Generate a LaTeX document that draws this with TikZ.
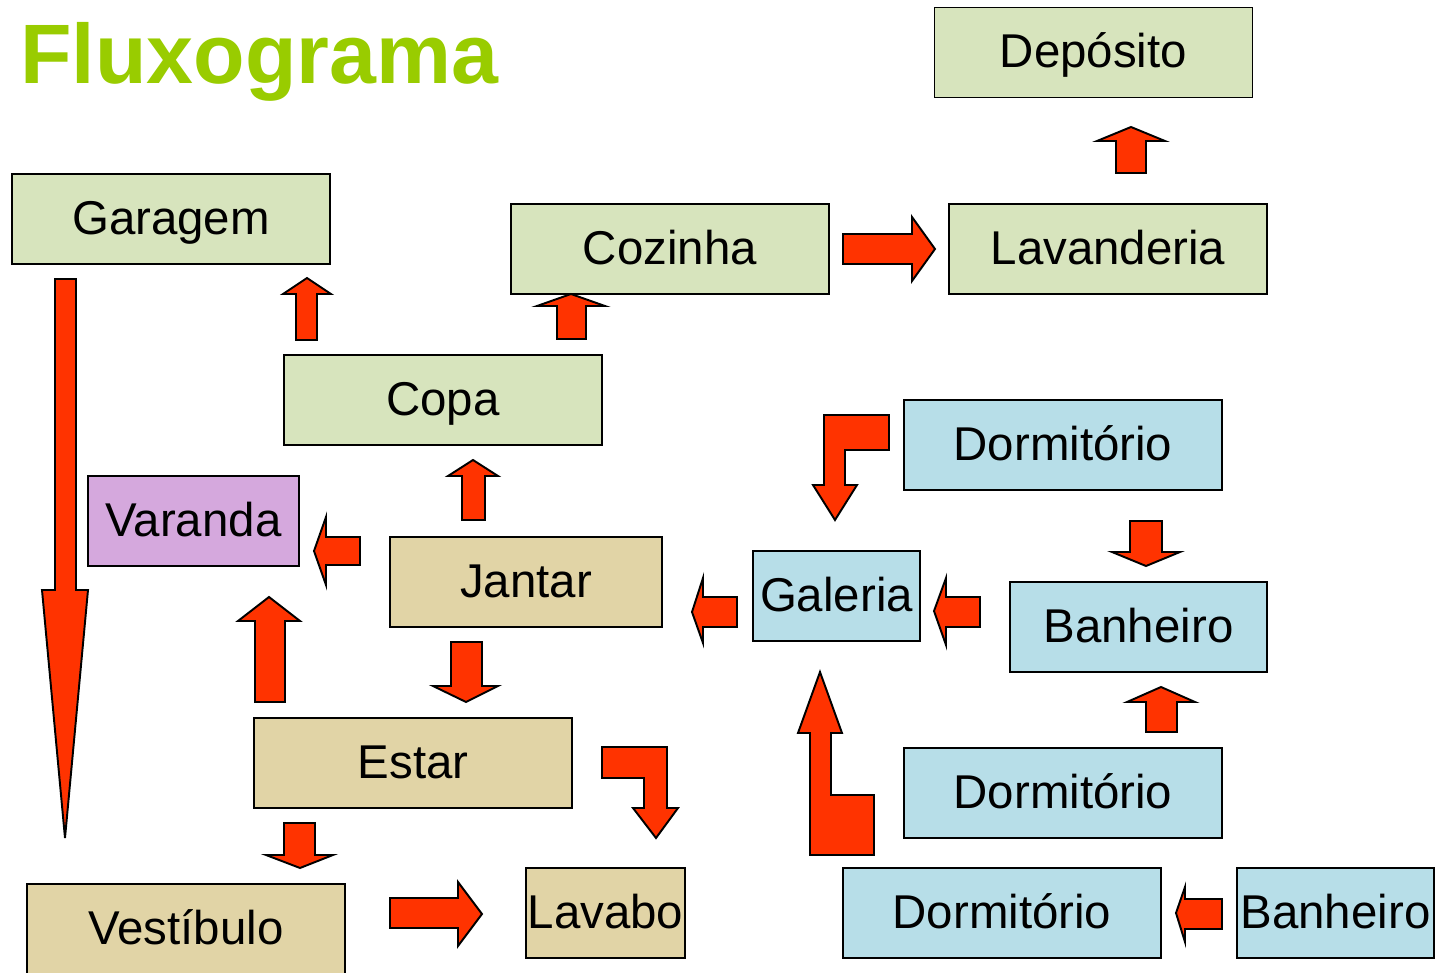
\documentclass[tikz,border=0pt]{standalone}
\usepackage{fontspec}
\setmainfont{Liberation Sans}
\definecolor{verde}{HTML}{D7E4BD}
\definecolor{azul}{HTML}{B7DEE8}
\definecolor{bege}{HTML}{E1D4A6}
\definecolor{lilas}{HTML}{D5A8DD}
\definecolor{seta}{HTML}{FF3300}
\definecolor{titulo}{HTML}{99CC00}
\tikzset{
  caixa/.style={draw, line width=1pt, inner sep=0pt, minimum width=6.36cm, minimum height=1.8cm,
    font=\fontsize{27}{27}\selectfont, text height=23pt, text depth=5.7pt},
  setaverm/.style={draw, fill=seta, line width=1.1pt, line join=miter}
}
\begin{document}
\begin{tikzpicture}[x=0.02cm, y=-0.02cm]
\useasboundingbox (0,0) rectangle (1445,973);
%\draw [help lines, step=50] (0,0) grid (1445,973);

\node [anchor=base west, text=titulo, font=\fontsize{48}{48}\selectfont\bfseries, inner sep=0pt] (titulo) at (20,84) {Fluxograma};

\node [caixa, fill=verde] (deposito) at (1093.5,52.5) {Depósito};
\node [caixa, fill=verde] (garagem) at (171,219) {Garagem};
\node [caixa, fill=verde] (cozinha) at (670,249) {Cozinha};
\node [caixa, fill=verde] (lavanderia) at (1108,249) {Lavanderia};
\node [caixa, fill=verde] (copa) at (443,400) {Copa};
\node [caixa, fill=azul] (dormA) at (1063,445) {Dormitório};
\node [caixa, fill=lilas, minimum width=4.22cm] (varanda) at (193.5,521) {Varanda};
\node [caixa, fill=bege, minimum width=5.44cm] (jantar) at (526,582) {Jantar};
\node [caixa, fill=azul, minimum width=3.34cm] (galeria) at (836.5,596) {Galeria};
\node [caixa, fill=azul, minimum width=5.14cm] (banheiroA) at (1138.5,627) {Banheiro};
\node [caixa, fill=bege] (estar) at (413,763) {Estar};
\node [caixa, fill=azul] (dormB) at (1063,793) {Dormitório};
\node [caixa, fill=bege] (vestibulo) at (186,929) {Vestíbulo};
\node [caixa, fill=bege, minimum width=3.18cm] (lavabo) at (605.5,913) {Lavabo};
\node [caixa, fill=azul] (dormC) at (1002,913) {Dormitório};
\node [caixa, fill=azul, minimum width=3.94cm] (banheiroB) at (1335.5,913) {Banheiro};

%  setas:

\draw [setaverm] (1116,173)--(1116,141)--(1097,141)--(1131,127)--(1165,141)--(1146,141)--(1146,173)--cycle;
\draw [setaverm] (843,234)--(912,234)--(912,217)--(935,249)--(912,281)--(912,264)--(843,264)--cycle;
\draw [setaverm] (296,340)--(296,294)--(283,294)--(307,278)--(331,294)--(317,294)--(317,340)--cycle;
\draw [setaverm] (557,339)--(557,306)--(537,306)--(571,294)--(605,306)--(586,306)--(586,339)--cycle;
\draw [setaverm] (462,520)--(462,476)--(448,476)--(473,460)--(498,476)--(485,476)--(485,520)--cycle;
\draw [setaverm] (360,537)--(326,537)--(326,517)--(314,551)--(326,585)--(326,565)--(360,565)--cycle;
\draw [setaverm] (451,642)--(482,642)--(482,686)--(498,686)--(466,702)--(433,686)--(451,686)--cycle;
\draw [setaverm] (255,702)--(255,621)--(238,621)--(269,597)--(300,621)--(285,621)--(285,702)--cycle;
\draw [setaverm] (284,823)--(315,823)--(315,855)--(333,855)--(300,868)--(266,855)--(284,855)--cycle;
\draw [setaverm] (390,898)--(458,898)--(458,882)--(482,914)--(458,946)--(458,928)--(390,928)--cycle;
\draw [setaverm] (602,747)--(667,747)--(667,808)--(678,808)--(656,838)--(633,808)--(644,808)--(644,778)--(602,778)--cycle;
\draw [setaverm] (55,279)--(76,279)--(76,590)--(88,590)--(65,838)--(42,590)--(55,590)--cycle;
\draw [setaverm] (737,597)--(703,597)--(703,578)--(692,612)--(703,643)--(703,627)--(737,627)--cycle;
\draw [setaverm] (980,597)--(946,597)--(946,578)--(934,611)--(946,645)--(946,627)--(980,627)--cycle;
\draw [setaverm] (889,415)--(889,450)--(845,450)--(845,485)--(857,485)--(835,520)--(813,485)--(824,485)--(824,415)--cycle;
\draw [setaverm] (1130,521)--(1162,521)--(1162,552)--(1180,552)--(1146,566)--(1112,552)--(1130,552)--cycle;
\draw [setaverm] (1146,732)--(1146,702)--(1127,702)--(1161,687)--(1195,702)--(1177,702)--(1177,732)--cycle;
\draw [setaverm] (874,855)--(810,855)--(810,733)--(798,733)--(820,672)--(842,733)--(831,733)--(831,795)--(874,795)--cycle;
\draw [setaverm] (1222,899)--(1185,899)--(1185,887)--(1176,913)--(1185,942)--(1185,929)--(1222,929)--cycle;

\end{tikzpicture}
\end{document}
